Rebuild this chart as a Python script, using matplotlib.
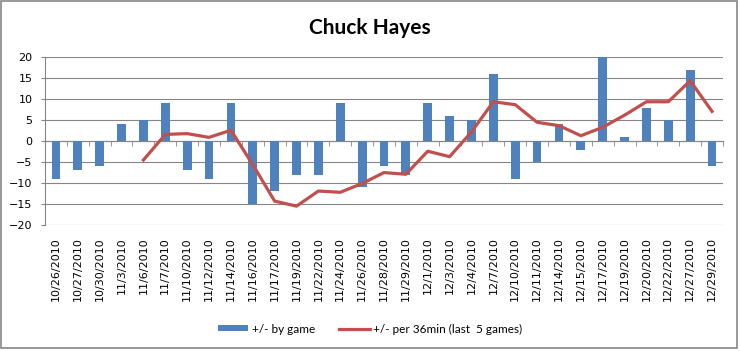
import matplotlib.pyplot as plt
from matplotlib.patches import Rectangle
import numpy as np

dates = ['10/26/2010', '10/27/2010', '10/30/2010', '11/3/2010', '11/6/2010', '11/7/2010',
         '11/10/2010', '11/12/2010', '11/14/2010', '11/16/2010', '11/17/2010', '11/19/2010',
         '11/22/2010', '11/24/2010', '11/26/2010', '11/28/2010', '11/29/2010', '12/1/2010',
         '12/3/2010', '12/4/2010', '12/7/2010', '12/10/2010', '12/11/2010', '12/14/2010',
         '12/15/2010', '12/17/2010', '12/19/2010', '12/20/2010', '12/22/2010', '12/27/2010',
         '12/29/2010']
by_game = [-9, -7, -6, 4, 5, 9, -7, -9, 9, -15, -12, -8, -8, 9, -11, -6, -8, 9,
           6, 5, 16, -9, -5, 4, -2, 20, 1, 8, 5, 17, -6]
per36_last5 = [np.nan, np.nan, np.nan, np.nan, -4.5, 1.6, 1.8, 0.9, 2.6, -5.6, -14.3, -15.5,
               -11.9, -12.2, -10.1, -7.5, -7.9, -2.4, -3.7, 2.2, 9.4, 8.7, 4.5, 3.7,
               1.3, 3.3, 6.2, 9.4, 9.4, 14.4, 7.1]

blue = '#4F81BD'
red = '#C0504D'
gray = '#868686'

fig = plt.figure(figsize=(7.4, 3.51), dpi=100)
ax = fig.add_axes([45 / 740, 1 - 225 / 351, (723 - 45) / 740, (225 - 57.3) / 351])

x = np.arange(len(dates))
bars = ax.bar(x, by_game, width=0.4, color=blue, label='+/- by game', zorder=2)
line, = ax.plot(x, per36_last5, color=red, lw=2.3, label='+/- per 36min (last  5 games)', zorder=3)

ax.set_xlim(-0.5, len(dates) - 0.5)
ax.set_ylim(-20, 20)
ax.set_yticks(np.arange(-20, 21, 5))
ax.yaxis.grid(True, color=gray, lw=0.8, zorder=0)
ax.set_axisbelow(True)

for s in ['top', 'right']:
    ax.spines[s].set_visible(False)
ax.spines['left'].set_color(gray)
ax.spines['left'].set_linewidth(0.8)
ax.spines['bottom'].set_position(('data', 0))
ax.spines['bottom'].set_color(gray)
ax.spines['bottom'].set_linewidth(0.8)
ax.spines['bottom'].set_zorder(1)

ax.set_xticks(x)
ax.set_xticklabels(dates, rotation=90, fontsize=8, family='DejaVu Sans')
ax.set_xticks(np.arange(-0.5, len(dates), 1), minor=True)
ax.tick_params(axis='x', which='major', length=0, pad=69)
ax.tick_params(axis='x', which='minor', length=3.6, color=gray, direction='out')
ax.tick_params(axis='y', length=3, color=gray, pad=6, labelsize=8)

fig.text(0.5, 1 - 28 / 351, 'Chuck Hayes', ha='center', va='center',
         fontsize=15, fontweight='bold', family='Lato')

leg = fig.legend([bars, line], ['+/- by game', '+/- per 36min (last  5 games)'],
                 loc='center', bbox_to_anchor=(370 / 740, 1 - 329 / 351), ncol=2,
                 frameon=False, prop={'family': 'Lato', 'size': 8.5},
                 handlelength=2.6, handleheight=0.45, columnspacing=2.0, handletextpad=0.3)

fig.patches.append(Rectangle((1 / 740, 3 / 351), 736 / 740, 347 / 351, transform=fig.transFigure,
                             fill=False, edgecolor=gray, lw=1.2))

fig.savefig('out.png', dpi=100)
